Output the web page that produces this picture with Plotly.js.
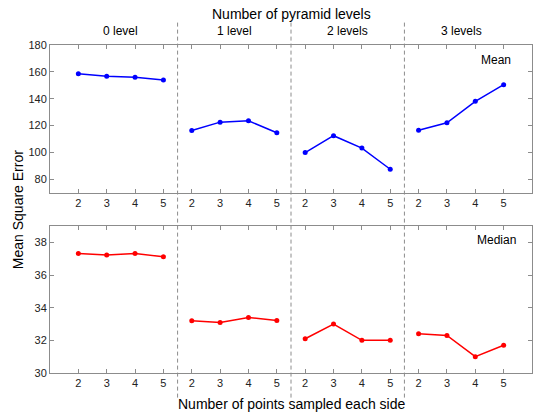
<!DOCTYPE html>
<html>
<head>
<meta charset="utf-8">
<script src="https://cdn.plot.ly/plotly-3.0.1.min.js"></script>
<style>html,body{margin:0;padding:0;background:#fff;}#chart{width:537px;height:419px;}</style>
</head>
<body>
<div id="chart"></div>
<script>
// ---- data ----
const levels = ['0 level', '1 level', '2 levels', '3 levels'];
const pointsPerSide = [2, 3, 4, 5];
const meanLevel0 = [158.5, 156.8, 156.0, 154.0];
const meanLevel1 = [116.3, 122.5, 123.5, 114.6];
const meanLevel2 = [99.8, 112.4, 103.2, 87.4];
const meanLevel3 = [116.5, 122.0, 138.0, 150.4];
const medianLevel0 = [37.33, 37.23, 37.33, 37.12];
const medianLevel1 = [33.2, 33.1, 33.4, 33.22];
const medianLevel2 = [32.1, 33.0, 32.0, 32.0];
const medianLevel3 = [32.4, 32.3, 31.0, 31.7];
const meanSeries = [meanLevel0, meanLevel1, meanLevel2, meanLevel3];
const medianSeries = [medianLevel0, medianLevel1, medianLevel2, medianLevel3];

const FONT = '"Liberation Sans", Arial, Helvetica, sans-serif';
const nP = pointsPerSide.length;
const xOf = (g, j) => g * nP + j;

const traces = [];
levels.forEach((lv, g) => {
  const xs = pointsPerSide.map((p, j) => xOf(g, j));
  traces.push({x: xs, y: meanSeries[g], xaxis: 'x', yaxis: 'y', mode: 'lines+markers',
    line: {color: '#0000ff', width: 1.5}, marker: {color: '#0000ff', size: 5}, showlegend: false, hoverinfo: 'skip'});
  traces.push({x: xs, y: medianSeries[g], xaxis: 'x2', yaxis: 'y2', mode: 'lines+markers',
    line: {color: '#ff0000', width: 1.5}, marker: {color: '#ff0000', size: 5}, showlegend: false, hoverinfo: 'skip'});
});

const tickvals = [], ticktext = [];
levels.forEach((lv, g) => pointsPerSide.forEach((p, j) => { tickvals.push(xOf(g, j)); ticktext.push(String(p)); }));

const xRange = [-1, levels.length * nP];
const axisCommon = {showgrid: false, zeroline: false, showline: true, linecolor: '#8c8c8c', linewidth: 1,
  mirror: 'ticks', ticks: 'inside', ticklen: 4, tickcolor: '#8c8c8c', tickfont: {family: FONT, size: 11, color: '#222'}};

const shapes = [];
for (let g = 1; g < levels.length; g++) {
  shapes.push({type: 'line', xref: 'x', yref: 'paper', x0: g * nP - 0.5, x1: g * nP - 0.5, y0: -0.075, y1: 1.07,
    line: {color: '#8c8c8c', width: 1, dash: '4px,3px'}});
}

const annotations = [
  {text: 'Number of pyramid levels', xref: 'paper', yref: 'paper', x: 0.5, y: 1.094, xanchor: 'center', yanchor: 'middle',
    showarrow: false, font: {family: FONT, size: 14, color: '#000'}},
  {text: 'Number of points sampled each side', xref: 'paper', yref: 'paper', x: 0.5, y: -0.094, xanchor: 'center', yanchor: 'middle',
    showarrow: false, font: {family: FONT, size: 14, color: '#000'}},
  {text: 'Mean Square Error', xref: 'paper', yref: 'paper', x: -0.066, y: 0.497, xanchor: 'center', yanchor: 'middle',
    textangle: -90, showarrow: false, font: {family: FONT, size: 14, color: '#000'}},
  {text: 'Mean', xref: 'paper', yref: 'paper', x: 0.926, y: 0.955, xanchor: 'center', yanchor: 'middle',
    showarrow: false, font: {family: FONT, size: 12, color: '#000'}},
  {text: 'Median', xref: 'paper', yref: 'paper', x: 0.926, y: 0.406, xanchor: 'center', yanchor: 'middle',
    showarrow: false, font: {family: FONT, size: 12, color: '#000'}}
];
levels.forEach((lv, g) => {
  annotations.push({text: lv, xref: 'x', yref: 'paper', x: g * nP + (nP - 1) / 2, y: 1.043, xanchor: 'center', yanchor: 'middle',
    showarrow: false, font: {family: FONT, size: 12, color: '#000'}});
});

const layout = {
  width: 537, height: 419,
  margin: {l: 50, r: 5, t: 45, b: 46},
  paper_bgcolor: '#fff', plot_bgcolor: '#fff',
  font: {family: FONT},
  xaxis: Object.assign({}, axisCommon, {domain: [0, 1], range: xRange, tickmode: 'array', tickvals: tickvals, ticktext: ticktext, anchor: 'y'}),
  yaxis: Object.assign({}, axisCommon, {domain: [0.55, 1], range: [70, 180], tickmode: 'array', tickvals: [80, 100, 120, 140, 160, 180], anchor: 'x'}),
  xaxis2: Object.assign({}, axisCommon, {domain: [0, 1], range: xRange, tickmode: 'array', tickvals: tickvals, ticktext: ticktext, anchor: 'y2'}),
  yaxis2: Object.assign({}, axisCommon, {domain: [0, 0.4496], range: [30, 39.04], tickmode: 'array', tickvals: [30, 32, 34, 36, 38], anchor: 'x2'}),
  shapes: shapes,
  annotations: annotations
};

Plotly.newPlot('chart', traces, layout, {displayModeBar: false, staticPlot: true});
</script>
</body>
</html>
